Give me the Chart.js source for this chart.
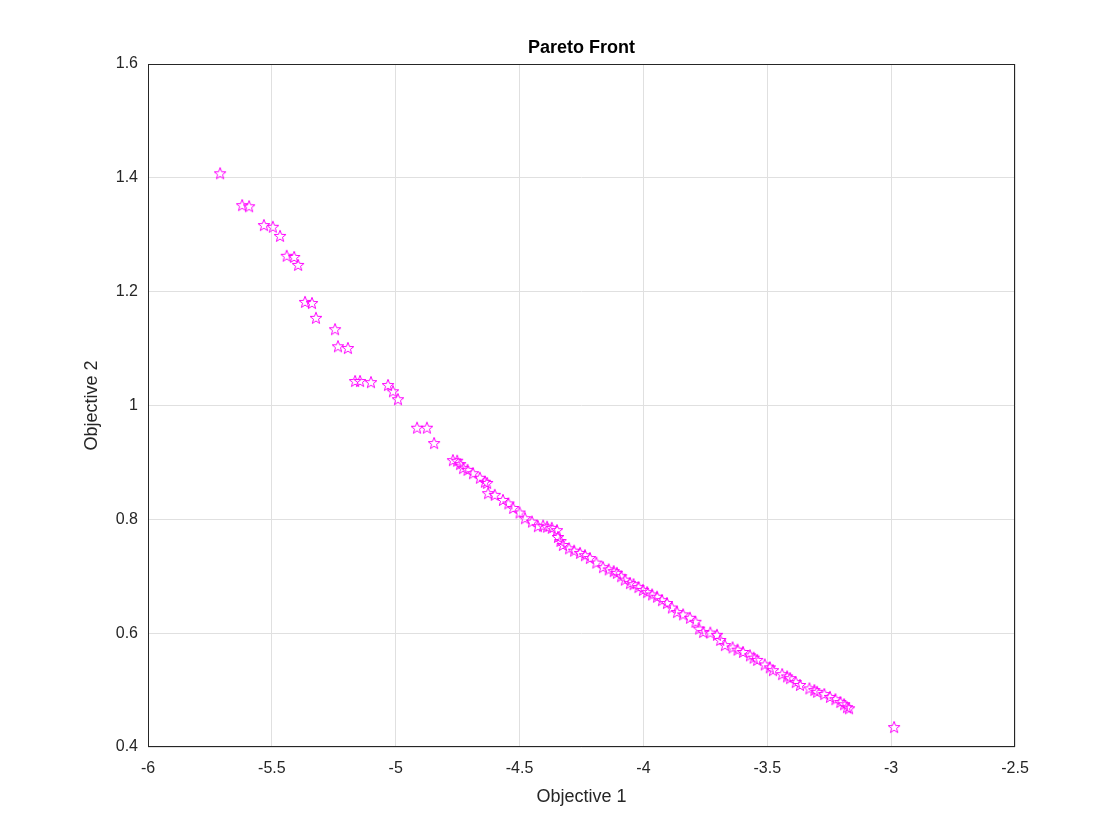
<!DOCTYPE html>
<html><head><meta charset="utf-8">
<script src="https://cdn.jsdelivr.net/npm/chart.js@4"></script>
<style>body{margin:0;background:#fff}#w{width:1120px;height:840px}</style>
</head><body><div id="w"><canvas id="c"></canvas></div>
<script>
const objective1 = [-5.709,-5.620,-5.592,-5.532,-5.496,-5.467,-5.440,-5.410,-5.394,-5.366,-5.338,-5.322,-5.245,-5.233,-5.193,-5.164,-5.144,-5.100,-5.031,-5.011,-4.991,-4.914,-4.874,-4.845,
-4.769,-4.752,-4.740,-4.728,-4.710,-4.688,-4.660,-4.640,-4.631,-4.627,-4.600,-4.567,-4.545,-4.526,-4.500,-4.478,-4.450,-4.426,-4.405,-4.389,-4.370,-4.349,-4.345,-4.335,-4.325,-4.300,-4.280,-4.256,-4.236,-4.216,-4.190,-4.163,-4.140,-4.120,-4.107,-4.090,-4.075,-4.054,-4.040,-4.020,-4.002,-3.985,-3.965,-3.945,-3.925,-3.905,-3.885,-3.864,-3.840,-3.812,-3.790,-3.775,-3.759,-3.730,-3.703,-3.690,-3.671,-3.640,-3.620,-3.598,-3.570,-3.555,-3.541,-3.510,-3.490,-3.477,-3.440,-3.420,-3.408,-3.385,-3.368,-3.330,-3.310,-3.299,-3.270,-3.247,-3.225,-3.205,-3.190,-3.178,-3.170,-2.988];
const objective2 = [1.408,1.352,1.350,1.317,1.314,1.298,1.263,1.261,1.247,1.182,1.180,1.154,1.134,1.104,1.101,1.043,1.043,1.041,1.036,1.025,1.011,0.961,0.961,0.934,
0.904,0.903,0.897,0.890,0.887,0.881,0.873,0.866,0.864,0.846,0.843,0.834,0.828,0.820,0.812,0.802,0.796,0.788,0.789,0.787,0.785,0.781,0.769,0.762,0.755,0.749,0.745,0.741,0.737,0.732,0.724,0.716,0.712,0.709,0.706,0.700,0.694,0.688,0.686,0.681,0.676,0.672,0.668,0.664,0.658,0.653,0.645,0.637,0.633,0.627,0.620,0.608,0.602,0.601,0.597,0.588,0.579,0.575,0.571,0.567,0.561,0.557,0.553,0.545,0.540,0.535,0.528,0.524,0.521,0.514,0.509,0.503,0.500,0.497,0.493,0.488,0.484,0.479,0.475,0.470,0.468,0.435];
const xTicks = [-6,-5.5,-5,-4.5,-4,-3.5,-3,-2.5];
const yTicks = [0.4,0.6,0.8,1,1.2,1.4,1.6];

const star = document.createElement('canvas');
star.width = 14; star.height = 14;
(function(){const g=star.getContext('2d');g.strokeStyle='#ff00ff';g.lineWidth=1;g.beginPath();
for(let i=0;i<10;i++){const r=i%2?2.6:6.2;const a=-Math.PI/2+i*Math.PI/5;const px=7+r*Math.cos(a),py=7.5+r*Math.sin(a);i?g.lineTo(px,py):g.moveTo(px,py);}g.closePath();g.stroke();})();

const pts = objective1.map((x,i)=>({x:x,y:objective2[i]}));
const FF='Liberation Sans, Arial';
const tick = {color:'#262626',font:{family:FF,size:16}};
const titlePlugin = {id:'t',afterDraw(ch){const c=ch.ctx,a=ch.chartArea;c.save();
c.fillStyle='#000';c.font='bold 18px '+FF;c.textAlign='center';c.textBaseline='alphabetic';c.fillText('Pareto Front',(a.left+a.right)/2,a.top-11);
c.fillStyle='#262626';c.font='18px '+FF;c.textBaseline='middle';c.fillText('Objective 1',(a.left+a.right)/2,797);
c.translate(92,(a.top+a.bottom)/2);c.rotate(-Math.PI/2);c.fillText('Objective 2',0,0);c.setTransform(1,0,0,1,0,0);
c.restore();c.save();
c.strokeStyle='#262626';c.lineWidth=1;c.strokeRect(a.left+0.5,a.top+0.5,a.right-a.left-1,a.bottom-a.top-1);c.restore();}};
new Chart(document.getElementById('c'),{type:'scatter',
data:{datasets:[{data:pts,pointStyle:star,pointRadius:6,pointHoverRadius:6}]},
options:{responsive:true,maintainAspectRatio:false,animation:false,devicePixelRatio:1,
layout:{padding:{top:64,right:105,left:0,bottom:0}},
plugins:{legend:{display:false},tooltip:{enabled:false}},
scales:{
x:{min:-6,max:-2.5,afterBuildTicks(s){s.ticks=xTicks.map(v=>({value:v}));},afterFit(s){s.height=93;},
 grid:{color:'#e0e0e0',drawTicks:false},border:{display:false},ticks:{...tick,padding:12,callback:v=>String(v)}},
y:{min:0.4,max:1.6,afterBuildTicks(s){s.ticks=yTicks.map(v=>({value:v}));},afterFit(s){s.width=148;},
 grid:{color:'#e0e0e0',drawTicks:false},border:{display:false},ticks:{...tick,padding:10,callback:v=>String(v)}}
}},plugins:[titlePlugin]});
</script></body></html>
